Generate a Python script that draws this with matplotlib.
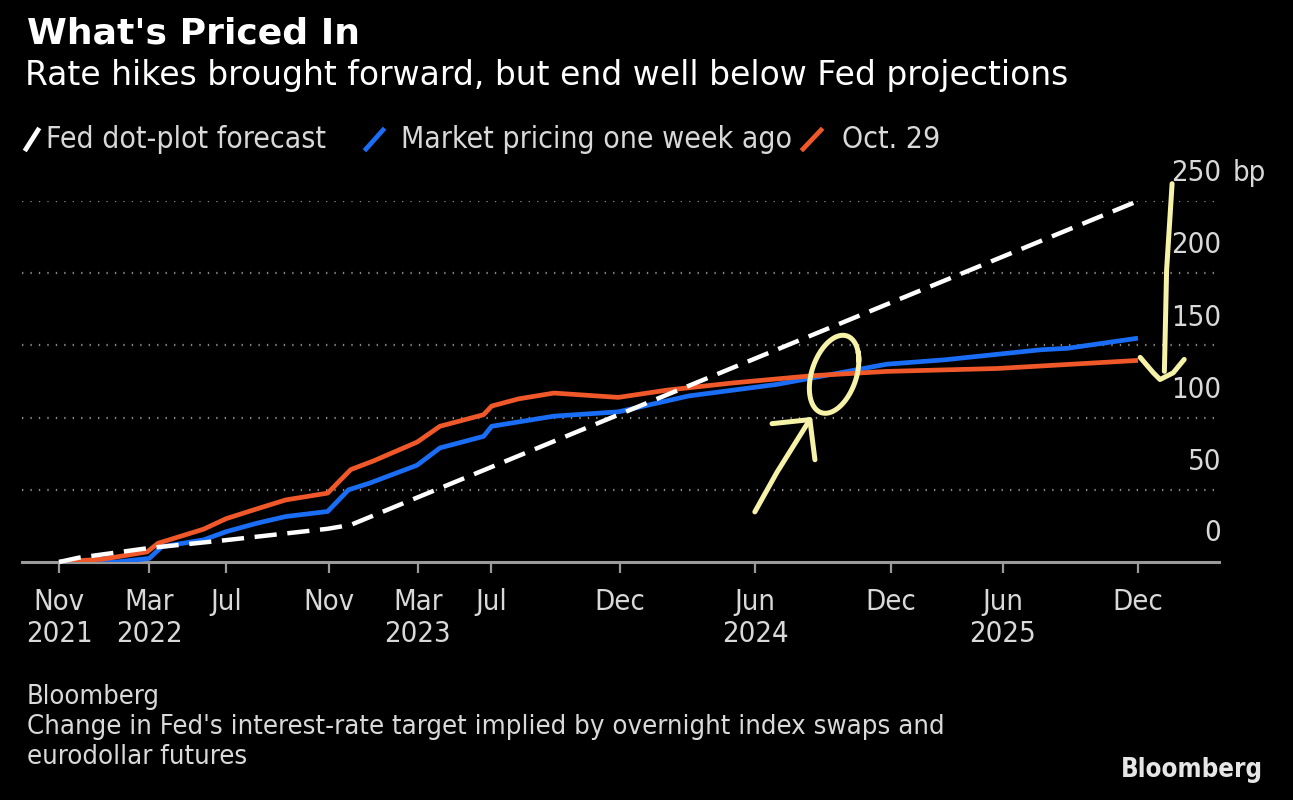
import numpy as np
import matplotlib
matplotlib.use("Agg")
import matplotlib.pyplot as plt
from matplotlib.lines import Line2D

# months since Nov 2021 -> change in fed target, bp
fed_x = [0, 0.9, 4.1, 7.5, 12.2, 13.25, 49]
fed_y = [0, 3, 9.7, 15, 23, 25.7, 250]

week_x = [0, 2.6, 4.1, 4.67, 6.56, 7.59, 9.0, 10.3, 12.2, 13.15, 14.1, 16.26, 17.3,
          19.28, 19.65, 22.48, 25.4, 28.6, 32.6, 37.6, 40.2, 44.6, 45.8, 49]
week_y = [0, 0, 2.5, 10.6, 15.3, 21, 26.9, 31.5, 35, 50, 54.6, 67, 79,
          87, 94, 101, 104, 115, 123, 137, 140, 147, 148, 155]

oct_x = [0, 2.0, 4.0, 4.5, 6.56, 7.59, 8.82, 10.3, 12.2, 13.25, 14.28, 16.26, 17.3,
         19.28, 19.65, 20.88, 22.48, 25.4, 27.6, 30.6, 34.2, 37.6, 42.6, 46.6, 49]
oct_y = [0, 2, 7, 13, 22.7, 30, 36, 43, 47.7, 64, 70, 83, 94,
         102, 108, 113, 117, 114, 119, 124, 129, 132, 134, 137.5, 139.6]

tick_pos = [0, 4.09, 7.58, 12.26, 16.30, 19.62, 25.48, 31.61, 37.78, 42.87, 49.0]
tick_lab = ["Nov\n2021", "Mar\n2022", "Jul\n ", "Nov\n ", "Mar\n2023", "Jul\n ",
            "Dec\n ", "Jun\n2024", "Dec\n ", "Jun\n2025", "Dec\n "]
y_ticks = [0, 50, 100, 150, 200, 250]

legend_labels = ["Fed dot-plot forecast", "Market pricing one week ago", "Oct. 29"]

WHITE = "#ffffff"
BLUE = "#1a6df5"
ORANGE = "#f0582a"
GREY = "#d9d9d9"
YELLOW = "#f6f2a8"
NARROW = dict(family="DejaVu Sans", fontstretch="condensed")

W, H = 1293, 800
fig = plt.figure(figsize=(W / 100, H / 100), dpi=100, facecolor="black")
ax = fig.add_axes([22 / W, 1 - 562 / H, 1197 / W, 361 / H], facecolor="black")

ax.plot(week_x, week_y, color=BLUE, lw=3.4, solid_capstyle="butt", zorder=3)
ax.plot(oct_x, oct_y, color=ORANGE, lw=3.4, solid_capstyle="butt", zorder=4)
ax.plot(fed_x, fed_y, color=WHITE, lw=3.2, dashes=(5, 2.4), zorder=5, clip_on=False)

ax.set_xlim(-1.68, 52.68)
ax.set_ylim(0, 250)
for s in ["top", "right", "left"]:
    ax.spines[s].set_visible(False)
ax.spines["bottom"].set_color("#9a9a9a")
ax.spines["bottom"].set_linewidth(2.2)
ax.spines["bottom"].set_zorder(2)

for v in y_ticks[1:]:
    ax.axhline(v, color="#8a8a8a", lw=1.6, ls=(0, (0.6, 3.2)), zorder=1)

ax.set_yticks([])
ax.set_xticks(tick_pos)
ax.set_xticklabels(tick_lab, fontsize=21, color=GREY, linespacing=1.18, **NARROW)
ax.tick_params(axis="x", length=8, width=1.6, color="#9a9a9a", pad=11)

ytr = ax.get_yaxis_transform()
for v in y_ticks:
    ax.annotate(str(v), xy=(1.0017, v), xycoords=ytr, xytext=(0, 20 if v else 21),
                textcoords="offset points", ha="right", va="center",
                fontsize=21, color=GREY, annotation_clip=False, **NARROW)
ax.annotate("bp", xy=(1.0017, 250), xycoords=ytr, xytext=(8, 20),
            textcoords="offset points", ha="left", va="center",
            fontsize=21, color=GREY, annotation_clip=False, **NARROW)

# hand-drawn yellow marks
t = np.linspace(0.35, 2 * np.pi + 0.6, 120)
ax.plot(35.2 + 1.05 * np.cos(t) + 0.4 * np.sin(t), 130 + 27 * np.sin(t),
        color=YELLOW, lw=3.6, solid_capstyle="round", zorder=6, clip_on=False)
ax.plot([31.6, 32.6, 34.1], [34.7, 62, 98.6], color=YELLOW, lw=3.6,
        solid_capstyle="round", zorder=6)
ax.plot([32.38, 34.1, 34.33], [95.8, 98.6, 70.8], color=YELLOW, lw=3.6,
        solid_capstyle="round", solid_joinstyle="round", zorder=6)
ax.plot([50.55, 50.3, 50.2], [262, 202, 132], color=YELLOW, lw=3.6,
        solid_capstyle="round", zorder=6, clip_on=False)
ax.plot([49.1, 49.7, 50.0, 50.6, 51.1], [141.7, 131, 126.4, 131, 140.3], color=YELLOW,
        lw=3.6, solid_capstyle="round", solid_joinstyle="round", zorder=6, clip_on=False)

# titles
fig.text(27 / W, 1 - 33 / H, "What's Priced In", fontsize=26, fontweight="bold",
         color="white", family="DejaVu Sans", va="center")
fig.text(25 / W, 1 - 76 / H, "Rate hikes brought forward, but end well below Fed projections",
         fontsize=23.8, color="white", family="DejaVu Sans", va="center")

# legend
leg_x = [(26, 38, 46), (366, 383, 401), (803, 821, 842)]
for (x0, x1, tx), lab, c in zip(leg_x, legend_labels, [WHITE, BLUE, ORANGE]):
    fig.add_artist(Line2D([x0 / W, x1 / W], [1 - 149 / H, 1 - 130 / H], color=c,
                          lw=3.4, transform=fig.transFigure))
    fig.text(tx / W, 1 - 139 / H, lab, fontsize=21.6, color=GREY, va="center", **NARROW)

# footer
fig.text(27 / W, 1 - 697 / H, "Bloomberg", fontsize=19.5, color=GREY, va="center", **NARROW)
fig.text(27 / W, 1 - 727 / H,
         "Change in Fed's interest-rate target implied by overnight index swaps and",
         fontsize=19.7, color=GREY, va="center", **NARROW)
fig.text(27 / W, 1 - 757 / H, "eurodollar futures", fontsize=19.7, color=GREY,
         va="center", **NARROW)
fig.text(1263 / W, 1 - 770 / H, "Bloomberg", fontsize=18.5, fontweight="bold",
         color="#e6e6e6", ha="right", va="center", **NARROW)

fig.savefig("out.png", dpi=100, facecolor="black")
